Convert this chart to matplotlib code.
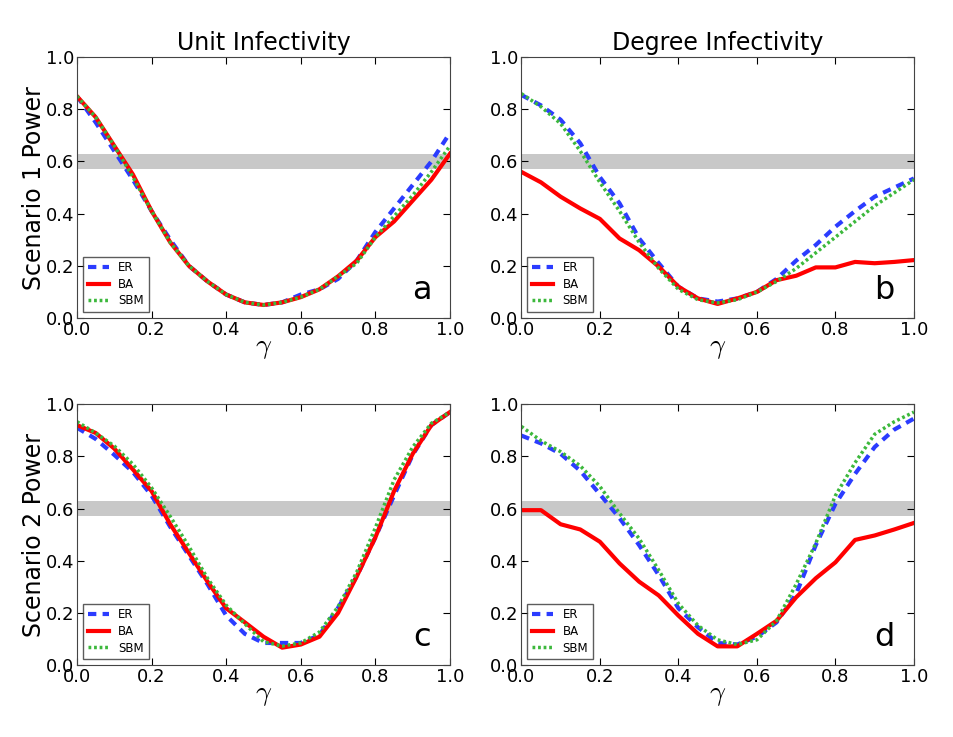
import matplotlib
matplotlib.use("Agg")
import matplotlib.pyplot as plt
import numpy as np

plt.rcParams["mathtext.fontset"] = "cm"

gamma = np.round(np.arange(0, 1.0001, 0.05), 2)

# panel a: scenario 1, unit infectivity
er_a = [0.85, 0.75, 0.64, 0.53, 0.41, 0.30, 0.20, 0.14, 0.09, 0.06, 0.05,
        0.06, 0.09, 0.11, 0.15, 0.22, 0.33, 0.42, 0.51, 0.60, 0.71]
ba_a = [0.85, 0.77, 0.66, 0.55, 0.41, 0.29, 0.20, 0.14, 0.09, 0.06, 0.05,
        0.06, 0.08, 0.11, 0.16, 0.22, 0.31, 0.37, 0.45, 0.53, 0.63]
sbm_a = [0.85, 0.77, 0.66, 0.54, 0.41, 0.29, 0.20, 0.14, 0.09, 0.06, 0.05,
         0.06, 0.08, 0.11, 0.16, 0.21, 0.31, 0.39, 0.47, 0.56, 0.66]

# panel b: scenario 1, degree infectivity
er_b = [0.855, 0.815, 0.76, 0.67, 0.54, 0.44, 0.305, 0.21, 0.12, 0.075, 0.063,
        0.075, 0.10, 0.15, 0.22, 0.28, 0.35, 0.41, 0.465, 0.50, 0.535]
ba_b = [0.56, 0.52, 0.465, 0.42, 0.38, 0.305, 0.26, 0.197, 0.12, 0.075, 0.054,
        0.075, 0.10, 0.145, 0.162, 0.194, 0.194, 0.215, 0.21, 0.215, 0.222]
sbm_b = [0.86, 0.81, 0.745, 0.64, 0.52, 0.41, 0.29, 0.19, 0.11, 0.07, 0.058,
         0.07, 0.10, 0.14, 0.19, 0.25, 0.31, 0.37, 0.43, 0.48, 0.53]

# panel c: scenario 2, unit infectivity
er_c = [0.91, 0.867, 0.806, 0.74, 0.65, 0.53, 0.42, 0.31, 0.19, 0.12, 0.085,
        0.085, 0.085, 0.115, 0.22, 0.34, 0.49, 0.65, 0.806, 0.92, 0.97]
ba_c = [0.92, 0.89, 0.83, 0.75, 0.667, 0.54, 0.43, 0.32, 0.218, 0.164, 0.109,
        0.067, 0.079, 0.109, 0.20, 0.34, 0.49, 0.667, 0.81, 0.92, 0.97]
sbm_c = [0.933, 0.89, 0.84, 0.77, 0.68, 0.57, 0.455, 0.333, 0.23, 0.158, 0.09,
         0.073, 0.085, 0.127, 0.224, 0.357, 0.527, 0.71, 0.836, 0.927, 0.97]

# panel d: scenario 2, degree infectivity
er_d = [0.88, 0.85, 0.81, 0.745, 0.655, 0.564, 0.46, 0.345, 0.218, 0.145, 0.085,
        0.079, 0.109, 0.164, 0.273, 0.46, 0.618, 0.733, 0.836, 0.903, 0.945]
ba_d = [0.594, 0.594, 0.54, 0.52, 0.473, 0.39, 0.32, 0.267, 0.19, 0.12, 0.072,
        0.072, 0.12, 0.17, 0.26, 0.333, 0.394, 0.48, 0.497, 0.52, 0.545]
sbm_d = [0.915, 0.86, 0.818, 0.764, 0.685, 0.582, 0.485, 0.364, 0.236, 0.152, 0.097,
         0.079, 0.097, 0.17, 0.31, 0.467, 0.65, 0.776, 0.885, 0.933, 0.97]

band = (0.57, 0.63)
col_titles = ["Unit Infectivity", "Degree Infectivity"]
row_labels = ["Scenario 1 Power", "Scenario 2 Power"]
letters = ["a", "b", "c", "d"]
panels = [(er_a, ba_a, sbm_a), (er_b, ba_b, sbm_b),
          (er_c, ba_c, sbm_c), (er_d, ba_d, sbm_d)]

fig = plt.figure(figsize=(9.54, 7.37), dpi=100)
# axes boxes in figure fractions
lefts = [0.0807, 0.5465]
widths = [0.391, 0.4115]
bottoms = [0.5685, 0.0975]
h = 0.354

for i, (er, ba, sbm) in enumerate(panels):
    r, c = divmod(i, 2)
    ax = fig.add_axes([lefts[c], bottoms[r], widths[c], h])
    ax.axhspan(band[0], band[1], color="#c8c8c8", zorder=0, lw=0)
    ax.plot(gamma, er, color="#2b3cff", ls=(0, (2, 1.5)), lw=3, label="ER")
    ax.plot(gamma, ba, color="#ff0000", ls="-", lw=3, label="BA")
    ax.plot(gamma, sbm, color="#3cb83c", ls=(0, (0.8, 0.8)), lw=2.5, label="SBM")
    ax.set_xlim(0, 1)
    ax.set_ylim(0, 1)
    ax.set_xticks(np.arange(0, 1.01, 0.2))
    ax.set_yticks(np.arange(0, 1.01, 0.2))
    ax.tick_params(direction="in", top=True, right=True, labelsize=13,
                   length=5, pad=2)
    for s in ax.spines.values():
        s.set_color("#444444")
    ax.set_xlabel(r"$\gamma$", fontsize=20, labelpad=-4)
    if r == 0:
        ax.set_title(col_titles[c], fontsize=17, pad=5)
    if c == 0:
        ax.set_ylabel(row_labels[r], fontsize=17, labelpad=0)
    ax.text(0.95, 0.045, letters[i], transform=ax.transAxes, fontsize=23,
            ha="right", va="bottom")
    leg = ax.legend(loc="lower left", fontsize=8.5, handlelength=1.8,
                    fancybox=False, borderpad=0.4, labelspacing=0.3,
                    bbox_to_anchor=(0.0, 0.0))
    leg.get_frame().set_edgecolor("#333333")
    leg.get_frame().set_linewidth(1.0)

plt.savefig("out.png", dpi=100)
